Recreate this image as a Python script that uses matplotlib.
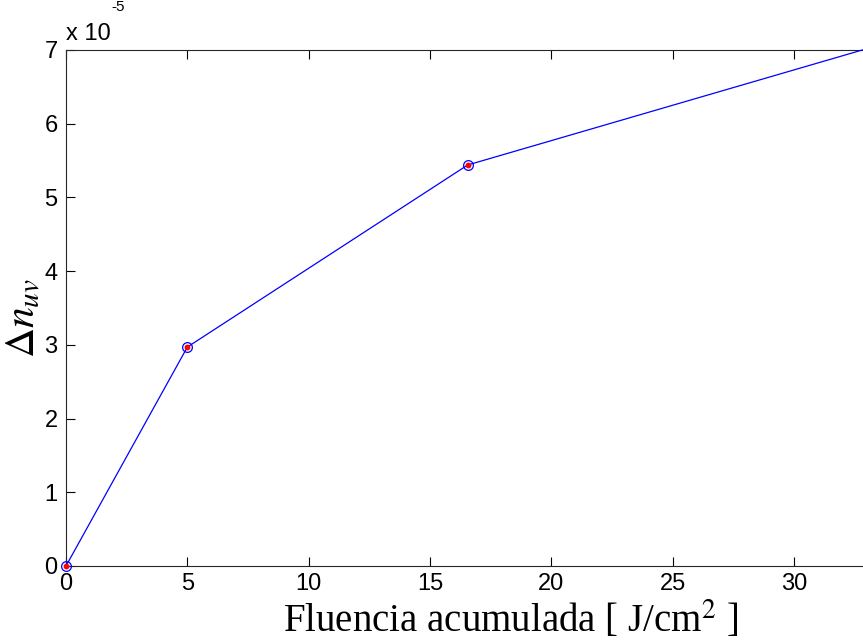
import matplotlib
matplotlib.use("Agg")
import matplotlib.pyplot as plt
from matplotlib.ticker import FuncFormatter

plt.rcParams["mathtext.fontset"] = "stix"

# datos: fluencia acumulada [J/cm^2] y cambio de indice
fluencia = [0, 5, 16.55, 35]
delta_n = [0.0, 2.97e-5, 5.44e-5, 7.21e-5]

x_ticks = [0, 5, 10, 15, 20, 25, 30]
y_ticks = [0, 1e-5, 2e-5, 3e-5, 4e-5, 5e-5, 6e-5, 7e-5]

W, H = 863, 643
fig = plt.figure(figsize=(W / 100, H / 100), dpi=100)

# ejes en pixeles: x=0 en 66 px, 24.27 px por unidad; y de 566 a 50 px
# el eje sigue mas alla del borde derecho de la imagen (recortado)
left, bottom, top = 66, 566, 50
px_x = 24.27
x_max = 36.67
ax = fig.add_axes([left / W, (H - bottom) / H, x_max * px_x / W, (bottom - top) / H])

ax.plot(fluencia, delta_n, color="blue", lw=0.9, marker="o", ms=7,
        mfc="none", mec="blue", mew=0.9, clip_on=False, zorder=3)
ax.plot(fluencia, delta_n, ls="none", marker="o", ms=3.2,
        color="red", clip_on=False, zorder=4)

ax.set_xlim(0, x_max)
ax.set_ylim(0, 7e-5)
ax.set_xticks(x_ticks)
ax.set_yticks(y_ticks)
ax.yaxis.set_major_formatter(FuncFormatter(lambda v, p: f"{v * 1e5:.0f}"))

ax.tick_params(direction="in", length=6.5, width=0.8, top=True, right=True,
               labelsize=17, colors="black")
ax.tick_params(axis="x", pad=5)
ax.tick_params(axis="y", pad=6)
for lab in ax.get_xticklabels() + ax.get_yticklabels():
    lab.set_fontfamily("Liberation Sans")
for s in ax.spines.values():
    s.set_color("#262626")
    s.set_linewidth(0.8)

ax.set_xlabel("Fluencia acumulada [ J/cm$^2$ ]", fontsize=28,
              family="Liberation Serif", labelpad=3)
ax.set_ylabel(r"$\Delta n_{uv}$", fontsize=30)
ax.yaxis.set_label_coords(-0.025, 0.48)

fig.text(66 / W, 1 - 40 / H, "x 10", fontsize=17,
         family="Liberation Sans", va="baseline", ha="left")
fig.text(111 / W, 1 - 11 / H, "-5", fontsize=11,
         family="Liberation Sans", va="baseline", ha="left")

fig.savefig("out.png", dpi=100)
